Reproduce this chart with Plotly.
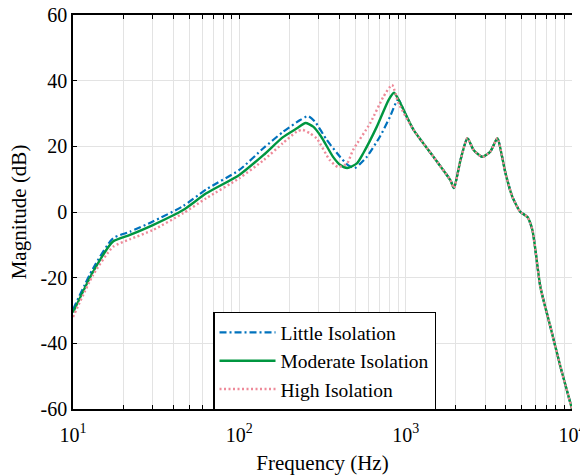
import plotly.graph_objects as go

# ---- data ----
little_f = [10, 13.2, 17.4, 22, 30.2, 45.9, 63.3, 100, 140, 183, 232, 259, 285, 335,
            403, 450, 494, 530, 584, 701, 805, 900, 990]
little_db = [-29.7, -17.2, -8.0, -6.0, -2.9, 1.8, 6.9, 12.8, 19.5, 24.4, 28.0, 29.2, 27.5, 22.0,
             16.8, 14.3, 13.4, 14.6, 16.8, 23.0, 29.0, 34.3, 30.1]

moderate_f = [10, 13.2, 17.4, 22, 30.2, 45.9, 63.3, 100, 140, 183, 222, 250, 278, 310,
              366, 405, 445, 509, 556, 671, 789, 851, 930]
moderate_db = [-30.6, -18.2, -9.0, -7.0, -4.0, 0.6, 5.7, 11.3, 17.4, 22.8, 25.5, 27.1, 26.0, 23.0,
               16.8, 14.3, 13.4, 14.8, 17.9, 26.0, 34.1, 36.3, 33.1]

high_f = [10, 13.2, 17.4, 22, 30.2, 45.9, 63.3, 100, 140, 183, 222, 240, 265, 292,
          350, 392, 444, 483, 611, 735, 828, 907]
high_db = [-32.0, -19.2, -10.6, -8.3, -5.5, -0.4, 4.2, 10.3, 15.8, 21.0, 24.5, 25.0, 24.0, 22.4,
           15.8, 13.7, 14.8, 18.9, 27.0, 35.1, 38.7, 33.1]

# shared high-frequency part (all three curves coincide)
tail_f = [1116, 1470, 1856, 1950, 2136, 2350, 2560, 2890, 3230, 3560, 3800, 3980,
          4380, 4895, 5395, 5780, 6460, 7420, 8530, 10000]
tail_db = [25.0, 16.8, 9.7, 7.3, 15.8, 22.5, 18.9, 16.8, 18.4, 22.5, 16.8, 11.9,
           4.6, 0.0, -1.5, -5.5, -22.9, -35.0, -47.2, -60.0]

series_names = ["Little Isolation", "Moderate Isolation", "High Isolation"]

x_major = [10, 100, 1000, 10000]
x_major_text = ["10<sup>1</sup>", "10<sup>2</sup>", "10<sup>3</sup>", "10<sup>4</sup>"]
y_ticks = [-60, -40, -20, 0, 20, 40, 60]
y_tick_text = ["-60", "-40", "-20", "0", "20", "40", "60"]

FONT = "Liberation Serif"

fig = go.Figure()
styles = [
    dict(color="#0072BD", width=2.2, dash="7px,3px,2px,3px"),
    dict(color="#009640", width=2.4, dash="solid"),
    dict(color="#EE8A99", width=2.4, dash="2px,2.5px"),
]
for name, fx, fy, st in zip(series_names,
                             [little_f, moderate_f, high_f],
                             [little_db, moderate_db, high_db],
                             styles):
    fig.add_trace(go.Scatter(
        x=fx + tail_f, y=fy + tail_db, mode="lines", name=name,
        line=dict(shape="spline", smoothing=0.6, **st),
    ))

tickvals = []
ticktext = []
for dec in [10, 100, 1000]:
    for m in range(1, 10):
        v = dec * m
        tickvals.append(v)
        ticktext.append(x_major_text[x_major.index(v)] if v in x_major else "")
tickvals.append(10000)
ticktext.append(x_major_text[-1])

fig.update_layout(
    width=580, height=475,
    margin=dict(l=73, r=8, t=15, b=66),
    paper_bgcolor="white", plot_bgcolor="white",
    font=dict(family=FONT, size=20, color="black"),
    showlegend=True,
    legend=dict(
        x=0.2806, y=0.247, xanchor="left", yanchor="top",
        bgcolor="white", bordercolor="black", borderwidth=1.5,
        font=dict(family=FONT, size=19.5, color="black"),
        tracegroupgap=0, itemwidth=56,
    ),
    xaxis=dict(
        type="log", range=[1, 4], automargin=False,
        tickmode="array", tickvals=tickvals, ticktext=ticktext, tickangle=0,
        ticklabelstandoff=7, ticklabeloverflow="allow",
        ticks="inside", ticklen=4, tickwidth=1, tickcolor="black",
        showline=True, linecolor="black", linewidth=1.5, mirror="ticks",
        showgrid=True, gridcolor="#e3e3e3", gridwidth=1,
        zeroline=False,
        tickfont=dict(family=FONT, size=20),
        title=dict(text="Frequency (Hz)", font=dict(family=FONT, size=21)),
    ),
    yaxis=dict(
        range=[-60, 60], automargin=False,
        tickmode="array", tickvals=y_ticks, ticktext=y_tick_text,
        ticks="inside", ticklen=4, tickwidth=1, tickcolor="black",
        showline=True, linecolor="black", linewidth=1.5,
        showgrid=True, gridcolor="#e3e3e3", gridwidth=1,
        zeroline=False,
        tickfont=dict(family=FONT, size=20),
        title=dict(text="Magnitude (dB)", font=dict(family=FONT, size=21), standoff=8),
    ),
)

fig.write_html("out.html")
